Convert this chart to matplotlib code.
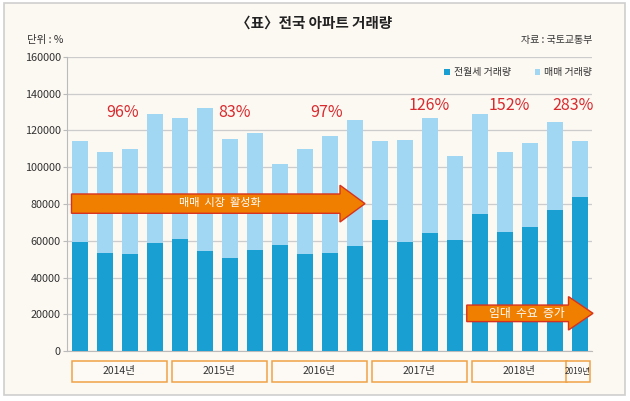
import numpy as np
import matplotlib
matplotlib.use('Agg')
import matplotlib.pyplot as plt
from matplotlib.patches import Rectangle, FancyArrow
import matplotlib.transforms as mtransforms

plt.rcParams['font.family'] = ['Liberation Sans Narrow', 'Noto Sans CJK KR', 'DejaVu Sans']

# quarterly transactions, 2014 Q1 .. 2019 Q1
quarters = ['2014-1Q', '2014-2Q', '2014-3Q', '2014-4Q',
            '2015-1Q', '2015-2Q', '2015-3Q', '2015-4Q',
            '2016-1Q', '2016-2Q', '2016-3Q', '2016-4Q',
            '2017-1Q', '2017-2Q', '2017-3Q', '2017-4Q',
            '2018-1Q', '2018-2Q', '2018-3Q', '2018-4Q',
            '2019-1Q']
rent = [59200, 53200, 52800, 58800, 60800, 54300, 50500, 55000, 57900, 52800,
        53200, 57300, 71300, 59200, 64400, 60400, 74600, 64800, 67700, 76900, 84000]
sale = [55300, 55300, 57000, 70200, 66000, 77800, 65100, 63800, 43700, 57300,
        63800, 68600, 43000, 55700, 62400, 45700, 54200, 43500, 45700, 47900, 30500]

years = ['2014년', '2015년', '2016년', '2017년', '2018년', '2019년']
year_counts = [4, 4, 4, 4, 4, 1]
ratio_labels = ['96%', '83%', '97%', '126%', '152%', '283%']

dark = '#1a9fd3'
light = '#a2d7f3'
cream = '#fcf8f2'
red = '#d92a2e'
orange = '#f07f00'

fig = plt.figure(figsize=(6.3, 4.01), dpi=100)
fig.patch.set_facecolor('white')
# outer frame
fig.patches.append(Rectangle((4/630, 1-395/401), 621/630, 392/401, transform=fig.transFigure,
                             facecolor=cream, edgecolor='#cfcfcf', lw=1.2, zorder=-10))

ax = fig.add_axes([67/630, 1-351/401, 525/630, 294/401])
ax.set_facecolor(cream)

x = np.arange(len(quarters))
ax.bar(x, rent, width=0.63, color=dark, zorder=3, label='전월세 거래량')
ax.bar(x, sale, width=0.63, bottom=rent, color=light, zorder=3, label='매매 거래량')

ax.set_xlim(-0.51, 20.49)
ax.set_ylim(0, 160000)
ax.set_yticks(range(0, 160001, 20000))
ax.tick_params(axis='y', labelsize=7.8, colors='#bbbbbb', labelcolor='#333333', length=3, width=0.8, pad=1.5)
ax.set_xticks([])
ax.grid(axis='y', color='#cccccc', lw=0.9, zorder=0)
for s in ['top', 'right']:
    ax.spines[s].set_visible(False)
ax.spines['left'].set_color('#bbbbbb')
ax.spines['bottom'].set_color('#bbbbbb')
ax.spines['left'].set_linewidth(0.8)
ax.spines['bottom'].set_linewidth(0.8)

# year boxes under the axis
trans = mtransforms.blended_transform_factory(ax.transData, ax.transAxes)
start = 0
for i, (yr, n) in enumerate(zip(years, year_counts)):
    x0 = start - 0.32 if n > 1 else start - 0.55
    x1 = start + n - 1 + 0.48 if n > 1 else start + 0.42
    ax.add_patch(Rectangle((x0, -0.104), x1 - x0, 0.071, transform=trans, clip_on=False,
                           facecolor='#fdfaf6', edgecolor='#f0a246', lw=1.1))
    ax.text((x0 + x1) / 2, -0.069, yr, transform=trans, ha='center', va='center',
            fontsize=7.5 if n > 1 else 6, color='#333333')
    start += n

# ratio labels above each year
ratio_x = [1.73, 6.18, 9.87, 14.0, 17.17, 19.73]
ratio_y = [130000, 130000, 130000, 133800, 133800, 133800]
for lbl, px, py in zip(ratio_labels, ratio_x, ratio_y):
    ax.text(px, py, lbl, ha='center', va='center', fontsize=11.5, color=red, zorder=5)

# arrows
a1 = FancyArrow(-0.33, 80200, 11.74, 0, width=10500, head_width=20000, head_length=1.0,
                length_includes_head=True, facecolor=orange, edgecolor='#d8321e', lw=1.0, zorder=6)
ax.add_patch(a1)
ax.text(5.6, 80300, '매매  시장  활성화', ha='center', va='center', fontsize=8, color='white', zorder=7)
a2 = FancyArrow(15.48, 20500, 5.05, 0, width=9000, head_width=18200, head_length=0.98,
                length_includes_head=True, facecolor=orange, edgecolor='#d8321e', lw=1.0,
                zorder=6, clip_on=False)
ax.add_patch(a2)
ax.text(17.88, 20500, '임대  수요  증가', ha='center', va='center', fontsize=8.5, color='white', zorder=7)

leg = ax.legend(loc='upper right', bbox_to_anchor=(1.012, 0.985), ncol=2, frameon=False,
                fontsize=7.2, handlelength=0.55, handleheight=0.55, handletextpad=0.4,
                columnspacing=2.4, borderaxespad=0.2)
for t in leg.get_texts():
    t.set_color('#333333')

fig.text(314/630, 1-22.5/401, '〈표〉전국 아파트 거래량', ha='center', va='center',
         fontsize=10.5, fontweight='bold', color='#222222')
fig.text(27/630, 1-40/401, '단위 : %', ha='left', va='center', fontsize=7.5, color='#333333')
fig.text(592/630, 1-40/401, '자료 : 국토교통부', ha='right', va='center', fontsize=7.2, color='#333333')

fig.savefig('out.png', dpi=100, facecolor=fig.get_facecolor())
